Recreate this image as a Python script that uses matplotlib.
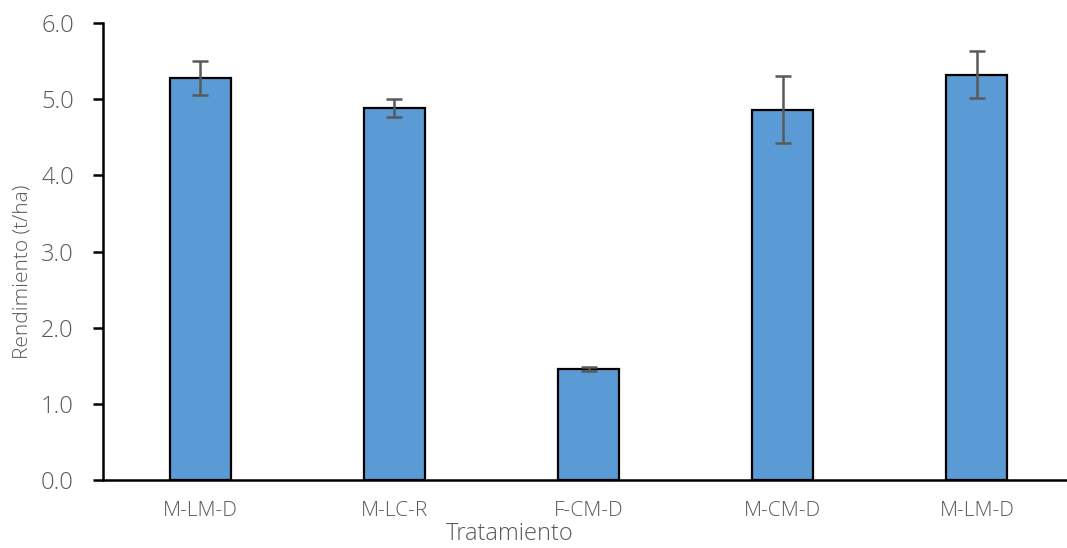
import matplotlib
matplotlib.use("Agg")
import matplotlib.pyplot as plt
from matplotlib import font_manager

treatments = ["M-LM-D", "M-LC-R", "F-CM-D", "M-CM-D", "M-LM-D"]
yield_t_ha = [5.28, 4.88, 1.46, 4.86, 5.32]
std_err = [0.22, 0.12, 0.03, 0.44, 0.31]
y_ticks = [0.0, 1.0, 2.0, 3.0, 4.0, 5.0, 6.0]

names = {f.name for f in font_manager.fontManager.ttflist}
family = "Open Sans" if "Open Sans" in names else "DejaVu Sans"
plt.rcParams["font.family"] = [family, "DejaVu Sans"]
text_color = "#595959"

W, H = 1067, 548
fig = plt.figure(figsize=(W / 100, H / 100), dpi=100)
left, right, top, bottom = 103, 1074, 23, 480
ax = fig.add_axes([left / W, 1 - bottom / H, (right - left) / W, (bottom - top) / H])

x = list(range(len(treatments)))
ax.bar(x, yield_t_ha, width=0.315, color="#5B9BD5", edgecolor="black", linewidth=1.6,
       yerr=std_err, error_kw=dict(ecolor="#595959", elinewidth=1.8, capsize=6, capthick=1.8),
       zorder=2)

ax.set_xlim(-0.5, 4.5)
ax.set_ylim(0, 6.0)
ax.set_yticks(y_ticks)
ax.set_yticklabels([f"{v:.1f}" for v in y_ticks])
ax.set_xticks(x)
ax.set_xticklabels(treatments)

for s in ["top", "right"]:
    ax.spines[s].set_visible(False)
for s in ["left", "bottom"]:
    ax.spines[s].set_linewidth(1.8)
    ax.spines[s].set_color("black")

ax.tick_params(axis="y", length=7, width=1.8, colors="black", labelcolor=text_color,
               labelsize=17, pad=14)
ax.tick_params(axis="x", length=0, labelcolor=text_color, labelsize=15, pad=15)
for lbl in ax.get_xticklabels() + ax.get_yticklabels():
    lbl.set_fontweight("light")

ax.set_ylabel("Rendimiento (t/ha)", color=text_color, fontsize=15, fontweight="light")
ax.set_xlabel("Tratamiento", color=text_color, fontsize=17, fontweight="light")
ax.yaxis.set_label_coords(-0.0834, 0.455)
ax.yaxis.label.set_va("center")
ax.xaxis.set_label_coords(0.419, -0.118)
ax.xaxis.label.set_va("center")

fig.savefig("out.png", dpi=100)
